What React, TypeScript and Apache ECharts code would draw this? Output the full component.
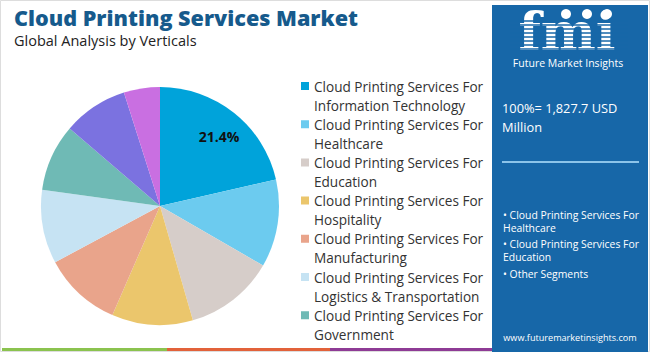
import React, { useEffect, useRef } from "react";
import * as echarts from "echarts";

const categories = [
  "Cloud Printing Services For Information Technology",
  "Cloud Printing Services For Healthcare",
  "Cloud Printing Services For Education",
  "Cloud Printing Services For Hospitality",
  "Cloud Printing Services For Manufacturing",
  "Cloud Printing Services For Logistics & Transportation",
  "Cloud Printing Services For Government",
  "Cloud Printing Services For Retail",
  "Cloud Printing Services For Others",
];
const shares = [21.4, 11.9, 12.2, 11.0, 10.6, 10.0, 9.1, 8.8, 4.9];
const colors = ["#00a3da", "#6ccbef", "#d6cdc9", "#ebc66c", "#e9a48b", "#c6e3f3", "#6fbab5", "#7b72e0", "#c96fe1"];
const legendItems = categories.slice(0, 7);
const labelledCategory = categories[0];
const totalText = "100%= 1,827.7 USD\nMillion";
const keySegments = ["• Cloud Printing Services For\nHealthcare", "• Cloud Printing Services For\nEducation", "• Other Segments"];
const keySegmentTops = [208.5, 237.5, 267.5];

const FONT = "'Open Sans', 'Noto Sans', sans-serif";
const PANEL = "#1767a8";

export default function App() {
  const ref = useRef<HTMLDivElement>(null);
  useEffect(() => {
    if (!ref.current) return;
    const chart = echarts.init(ref.current, null, { renderer: "svg" });
    const stripes: any[] = [];
    for (let y = 21; y <= 52; y += 4) {
      stripes.push({
        type: "line",
        shape: { x1: 510, y1: y, x2: 628, y2: y },
        style: { stroke: PANEL, lineWidth: 1.3 },
        z: 12,
      });
    }
    chart.setOption({
      animation: false,
      backgroundColor: "#ffffff",
      title: {
        text: "Cloud Printing Services Market",
        subtext: "Global Analysis by Verticals",
        left: 9,
        top: 1,
        itemGap: 5,
        textStyle: { fontFamily: FONT, fontSize: 21.6, fontWeight: 800, color: "#165a8c" },
        subtextStyle: { fontFamily: FONT, fontSize: 14.5, color: "#222222" },
      },
      legend: {
        orient: "vertical",
        left: 301,
        top: 76.5,
        height: 290,
        padding: 0,
        itemWidth: 8,
        itemHeight: 38,
        itemGap: 0.2,
        icon: "path://M0,0h0.05v0.05h-0.05z M0,5.5h8v8h-8z M0,37.95h0.05v0.05h-0.05z",
        data: legendItems,
        formatter: (n: string) => n.replace(" For ", " For\n"),
        textStyle: { fontFamily: FONT, fontSize: 13.6, color: "#333333", lineHeight: 19 },
        selectedMode: false,
      },
      graphic: [
        { type: "rect", shape: { x: 0.5, y: 0.5, width: 649, height: 351 }, style: { fill: "none", stroke: "#dddddd", lineWidth: 1 }, z: 1 },
        { type: "rect", shape: { x: 492, y: 5, width: 156, height: 347 }, style: { fill: PANEL }, z: 10 },
        { type: "rect", shape: { x: 2, y: 348, width: 165, height: 3 }, style: { fill: "#8bc34f" }, z: 10 },
        { type: "rect", shape: { x: 167, y: 348, width: 163, height: 3 }, style: { fill: "#e2623a" }, z: 10 },
        { type: "rect", shape: { x: 330, y: 348, width: 162, height: 3 }, style: { fill: "#8e3b95" }, z: 10 },
        {
          type: "text", x: 567, y: 31, z: 11,
          style: { text: "fmi", fill: "#ffffff", font: "bold 52px 'DejaVu Serif', serif", lineHeight: 40, textAlign: "center", textVerticalAlign: "middle" },
        },
        ...stripes,
        { type: "circle", shape: { cx: 566, cy: 14, r: 5 }, style: { fill: "#ffffff" }, z: 13 },
        { type: "circle", shape: { cx: 587, cy: 14, r: 5 }, style: { fill: "#ffffff" }, z: 13 },
        { type: "circle", shape: { cx: 607, cy: 14, r: 5 }, style: { fill: "#ffffff" }, z: 13 },
        {
          type: "text", x: 568, y: 63, z: 13,
          style: { text: "Future Market Insights", fill: "#ffffff", font: `10.5px ${FONT}`, textAlign: "center", textVerticalAlign: "middle" },
        },
        {
          type: "text", x: 502, y: 98, z: 13,
          style: { text: totalText, fill: "#ffffff", font: `12.8px ${FONT}`, lineHeight: 19 },
        },
        { type: "line", shape: { x1: 502, y1: 162, x2: 639, y2: 162 }, style: { stroke: "#8cc4ea", lineWidth: 2 }, z: 13 },
        ...keySegments.map((t, i) => ({
          type: "text", x: 503, y: keySegmentTops[i], z: 13,
          style: { text: t, fill: "#ffffff", font: `10.4px ${FONT}`, lineHeight: 13 },
        })),
        {
          type: "text", x: 570, y: 337, z: 13,
          style: { text: "www.futuremarketinsights.com", fill: "#ffffff", font: `9.1px ${FONT}`, textAlign: "center", textVerticalAlign: "middle" },
        },
      ],
      series: [
        {
          type: "pie",
          center: [160, 206],
          radius: [0, 119],
          startAngle: 90,
          clockwise: true,
          color: colors,
          data: categories.map((c, i) => ({
            name: c,
            value: shares[i],
            label: { show: c === labelledCategory },
          })),
          label: {
            position: "inside",
            formatter: "{c}%",
            fontFamily: FONT,
            fontSize: 14,
            fontWeight: "bold",
            color: "#111111",
          },
          labelLayout: { dx: 20, dy: -21 },
          labelLine: { show: false },
          emphasis: { disabled: true },
        },
      ],
    });
    return () => chart.dispose();
  }, []);
  return <div ref={ref} style={{ position: "fixed", left: 0, top: 0, width: 650, height: 352 }} />;
}
